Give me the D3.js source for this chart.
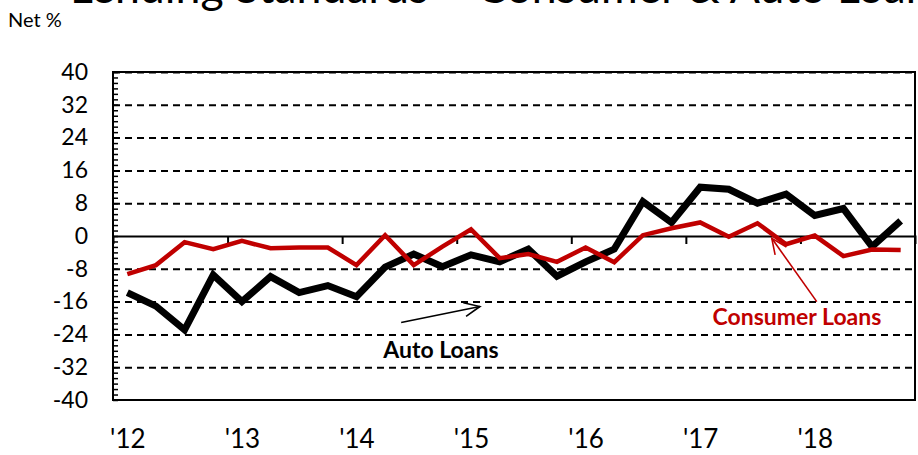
<!DOCTYPE html>
<html>
<head>
<meta charset="utf-8">
<script src="https://cdn.jsdelivr.net/npm/d3@7"></script>
<style>
  html, body { margin: 0; padding: 0; background: #fff; }
  svg { display: block; }
</style>
</head>
<body>
<svg id="chart" width="918" height="455"></svg>
<script>
// ---- data ----
const quarters = ["2012Q1","2012Q2","2012Q3","2012Q4","2013Q1","2013Q2","2013Q3","2013Q4",
  "2014Q1","2014Q2","2014Q3","2014Q4","2015Q1","2015Q2","2015Q3","2015Q4",
  "2016Q1","2016Q2","2016Q3","2016Q4","2017Q1","2017Q2","2017Q3","2017Q4",
  "2018Q1","2018Q2","2018Q3","2018Q4"];
const autoLoans = [-13.8,-17.1,-22.9,-9.5,-16.0,-9.9,-13.8,-12.1,-14.8,-7.6,-4.4,-7.5,-4.6,-6.3,
  -3.2,-9.8,-6.3,-3.2,8.4,3.3,11.9,11.4,8.0,10.2,5.0,6.7,-2.6,3.7];
const consumerLoans = [-9.3,-7.1,-1.5,-3.2,-1.2,-3.0,-2.8,-2.8,-7.1,0.2,-7.1,-2.6,1.6,-5.4,
  -4.4,-6.3,-2.8,-6.4,0.2,1.9,3.3,-0.2,3.1,-2.0,0.1,-4.9,-3.3,-3.4];
const yearLabels = ["'12","'13","'14","'15","'16","'17","'18"];
const yTicks = [40,32,24,16,8,0,-8,-16,-24,-32,-40];
const titleText = "Lending Standards \u2013 Consumer & Auto Loans";
const unitLabel = "Net %";

const RED = "#C00000";
const svg = d3.select("#chart");
const L = 113, R = 915, T = 72, B = 400;

const x = d3.scaleLinear().domain([0, quarters.length]).range([L, R]);
const y = d3.scaleLinear().domain([-40, 40]).range([B, T]);
const cx = i => x(i + 0.5);

// title (clipped at top as in reference)
svg.append("text")
  .attr("x", 70).attr("y", 3)
  .attr("font-family", "Lato, 'Open Sans', sans-serif")
  .attr("font-size", 44)
  .attr("textLength", 880)
  .attr("lengthAdjust", "spacingAndGlyphs")
  .text(titleText);

svg.append("text")
  .attr("x", 8).attr("y", 27)
  .attr("font-family", "Lato, sans-serif")
  .attr("font-size", 20)
  .text(unitLabel);

// gridlines
const grid = svg.append("g").attr("transform", `translate(${L},0)`)
  .call(d3.axisLeft(y).tickValues(yTicks.filter(v => v !== 0 && v !== -40)).tickSize(-(R - L)).tickFormat(""));
grid.select(".domain").remove();
grid.selectAll("line").attr("stroke", "#000").attr("stroke-width", 2).attr("stroke-dasharray", "7,5");

// frame
svg.append("rect").attr("x", L).attr("y", T).attr("width", R - L).attr("height", B - T)
  .attr("fill", "none").attr("stroke", "#000").attr("stroke-width", 2);

// minor ticks inside left axis
const minor = svg.append("g").attr("transform", `translate(${L},0)`)
  .call(d3.axisRight(y).tickValues(d3.range(-40, 40.001, 4/3)).tickSize(5).tickFormat(""));
minor.select(".domain").remove();
minor.selectAll("line").attr("stroke", "#000").attr("stroke-width", 1.5);

// y labels
const yAxis = svg.append("g").attr("transform", `translate(${L},0)`)
  .call(d3.axisLeft(y).tickValues(yTicks).tickSize(0).tickPadding(25).tickFormat(d => d));
yAxis.select(".domain").remove();
yAxis.selectAll("text").attr("font-family", "Lato, sans-serif").attr("font-size", 23).attr("fill", "#000");

// zero line with year ticks
const zero = svg.append("g").attr("transform", `translate(0,${y(0)})`)
  .call(d3.axisBottom(x).tickValues([4,8,12,16,20,24]).tickSize(8).tickFormat(""));
zero.selectAll("line").attr("stroke", "#000").attr("stroke-width", 2);
zero.select(".domain").attr("stroke", "#000").attr("stroke-width", 2);

// x labels
const xAxis = svg.append("g").attr("transform", `translate(0,${B})`)
  .call(d3.axisBottom(x).tickValues(yearLabels.map((d, k) => k * 4 + 0.5)).tickSize(0).tickPadding(30)
    .tickFormat((d, k) => yearLabels[k]));
xAxis.select(".domain").remove();
xAxis.selectAll("text").attr("font-family", "Lato, sans-serif").attr("font-size", 26).attr("fill", "#000");

// lines
const line = d3.line().x((d, i) => cx(i)).y(d => y(d));
svg.append("path").datum(autoLoans).attr("d", line)
  .attr("fill", "none").attr("stroke", "#000").attr("stroke-width", 7).attr("stroke-linejoin", "miter");
svg.append("path").datum(consumerLoans).attr("d", line)
  .attr("fill", "none").attr("stroke", RED).attr("stroke-width", 4.5).attr("stroke-linejoin", "miter");

// annotations
function arrow(x1, y1, x2, y2, color) {
  const px1 = x(x1), py1 = y(y1), px2 = x(x2), py2 = y(y2);
  const ang = Math.atan2(py2 - py1, px2 - px1);
  const len = 17, spread = 0.42;
  const g = svg.append("g").attr("stroke", color).attr("stroke-width", 1.6).attr("fill", "none");
  g.append("line").attr("x1", px1).attr("y1", py1).attr("x2", px2).attr("y2", py2);
  g.append("path").attr("d",
    `M${px2 - len * Math.cos(ang - spread)},${py2 - len * Math.sin(ang - spread)}L${px2},${py2}L${px2 - len * Math.cos(ang + spread)},${py2 - len * Math.sin(ang + spread)}`);
}
arrow(10.06, -21.1, 12.81, -17.2, "#000");
arrow(24.57, -16.0, 23.0, -0.56, RED);

svg.append("text").attr("x", x(11.45)).attr("y", y(-29.8)).attr("text-anchor", "middle")
  .attr("font-family", "Lato, sans-serif").attr("font-weight", "bold").attr("font-size", 23)
  .attr("fill", "#000").text("Auto Loans");
svg.append("text").attr("x", x(23.88)).attr("y", y(-21.7)).attr("text-anchor", "middle")
  .attr("font-family", "Lato, sans-serif").attr("font-weight", "bold").attr("font-size", 23)
  .attr("fill", RED).text("Consumer Loans");
</script>
</body>
</html>
